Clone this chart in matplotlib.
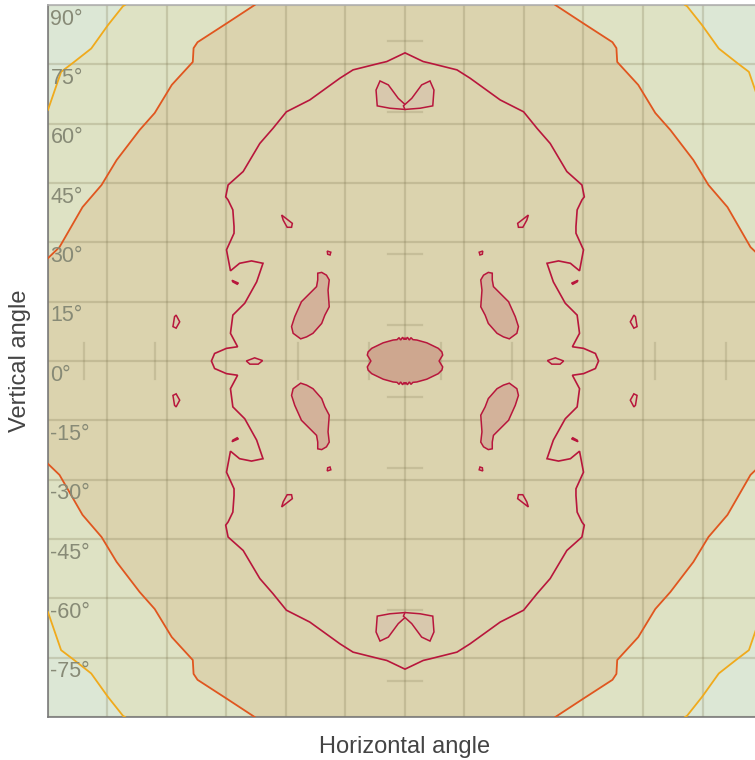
import numpy as np
import matplotlib.pyplot as plt

plt.rcParams['font.family'] = ['Liberation Sans', 'DejaVu Sans']

# contour outlines, in degrees (horizontal, vertical)
# upper-left quarter of each shape, the chart is mirrored both ways

# yellow contour (upper-left corner)
yellow_h = [-90.0, -86.7, -83.8, -79.1, -74.9, -71.1, -70.6]
yellow_v = [63.5, 73.1, 75.3, 79.0, 84.9, 89.7, 90.0]

# orange contour, left edge up to top edge
orange_h = [-90.0, -87.1, -81.3, -76.5, -72.7, -66.9, -63.1, -58.8, -53.5, -53.3, -52.3, -44.9, -37.9]
orange_v = [26.0, 28.8, 38.9, 44.5, 50.8, 58.4, 62.7, 69.8, 75.6, 79.1, 80.6, 85.4, 90.0]

# main crimson contour, top centre down to the horizontal axis
crimson_h = [0.0, -4.6, -6.3, -13.1, -16.4, -24.0, -29.9, -33.3, -36.6, -40.8, -44.6, -45.2,
             -44.6, -43.4, -43.1, -43.1, -45.0, -44.0, -41.7, -38.7, -35.8, -37.4, -40.4,
             -43.4, -44.0, -42.2, -45.0, -48.0, -48.8]
crimson_v = [77.9, 75.7, 75.3, 73.6, 71.5, 66.0, 63.0, 58.8, 55.0, 47.9, 44.5, 41.5,
             40.7, 38.2, 34.0, 32.3, 28.1, 22.8, 24.7, 25.3, 24.7, 20.0, 14.6,
             11.6, 7.0, 3.6, 3.2, 1.9, 0.0]

# central blob, top centre to the left point
centre_h = [0.0, -0.2, -0.6, -1.1, -1.5, -2.0, -3.0, -5.5, -8.4, -9.3, -9.5, -8.6]
centre_v = [5.9, 5.4, 6.0, 5.3, 5.9, 5.4, 5.3, 4.6, 3.2, 2.3, 1.5, 0.0]

# closed islands in the upper-left quarter
ear_h = [-22.0, -21.0, -19.8, -19.1, -19.4, -19.1, -20.2, -21.0, -23.2, -24.8, -26.3,
         -28.2, -28.6, -27.8, -26.1, -24.0, -22.3, -22.0]
ear_v = [22.2, 22.4, 21.7, 20.5, 17.9, 13.7, 11.6, 9.5, 7.0, 6.1, 5.6,
         7.0, 8.7, 11.2, 15.0, 17.1, 18.8, 20.5]
top_loop_h = [-6.3, -7.3, -7.0, -3.8, 0.0, 0.4, -1.7, -4.2]
top_loop_v = [70.8, 68.5, 64.5, 63.9, 63.6, 64.5, 66.4, 69.8]
tri_h = [-31.1, -28.4, -28.6, -29.7, -30.7]
tri_v = [36.9, 34.8, 33.8, 33.8, 35.6]
dot_h = [-19.6, -18.7, -18.9, -19.5]
dot_v = [27.8, 27.5, 26.8, 27.0]
sliver_h = [-43.6, -42.0, -42.3, -43.4]
sliver_v = [20.4, 19.7, 19.4, 20.0]
side_h = [-58.5, -58.1, -57.7, -56.8, -57.7]
side_v = [8.7, 11.2, 11.6, 9.9, 8.3]

# island on the horizontal axis (left one, mirrored to the right)
oval_h = [-40.0, -37.9, -35.9, -37.0, -39.1]
oval_v = [0.0, 0.8, 0.1, -0.8, -0.8]

# grid and tick values
grid_vals = np.arange(-90, 91, 15)
ylabels = [90, 75, 60, 45, 30, 15, 0, -15, -30, -45, -60, -75]
mark_vals = [9, 27, 63, 81]

c_blue = '#dce7d5'
c_green = '#dee2c4'
c_tan = '#dbd3ae'
c_yellow = '#f0aa1c'
c_orange = '#e0561f'
c_crimson = '#b8163c'
c_grid = '#7d7550'


def four_way(h, v):
    h = np.asarray(h); v = np.asarray(v)
    ul = list(zip(h, v))
    ll = list(zip(h[::-1], -v[::-1]))
    lr = list(zip(-h, -v))
    ur = list(zip(-h[::-1], v[::-1]))
    return np.array(ul + ll + lr + ur)


def mirrors(h, v):
    h = np.asarray(h); v = np.asarray(v)
    return [(h, v), (-h, v), (h, -v), (-h, -v)]


fig = plt.figure(figsize=(7.55, 7.6), dpi=100)
ax = fig.add_axes([48 / 755, 43 / 760, 714 / 755, 712 / 760])
ax.set_xlim(-90, 90)
ax.set_ylim(-90, 90)
ax.set_facecolor(c_green)

# blue corners outside the yellow contour
for h, v in mirrors(yellow_h, yellow_v):
    ch = np.append(h, np.sign(h[0]) * 90)
    cv = np.append(v, np.sign(v[-1]) * 90)
    ax.fill(ch, cv, color=c_blue, lw=0, zorder=1)
    ax.plot(h, v, color=c_yellow, lw=1.3, zorder=4)

# tan region inside the orange contour
oh = np.asarray(orange_h); ov = np.asarray(orange_v)
tan = np.concatenate([
    np.column_stack([oh, ov]),
    np.column_stack([-oh[::-1], ov[::-1]]),
    np.column_stack([-oh, -ov]),
    np.column_stack([oh[::-1], -ov[::-1]]),
])
ax.fill(tan[:, 0], tan[:, 1], color=c_tan, lw=0, zorder=1.5)
for h, v in mirrors(orange_h, orange_v):
    ax.plot(h, v, color=c_orange, lw=1.3, zorder=4)

# grid
for g in grid_vals:
    ax.axvline(g, color=c_grid, alpha=0.25, lw=1.6, zorder=2)
    ax.axhline(g, color=c_grid, alpha=0.25, lw=1.6, zorder=2)

# short marks along the centre lines
for m in mark_vals:
    for s in (-1, 1):
        ax.plot([-4.4, 4.4], [s * m, s * m], color=c_grid, alpha=0.22, lw=1.6, zorder=2)
        ax.plot([s * m, s * m], [-4.5, 4.5], color=c_grid, alpha=0.22, lw=1.6, zorder=2)

# main crimson contour
main = four_way(crimson_h, crimson_v)
ax.fill(main[:, 0], main[:, 1], facecolor='none', edgecolor=c_crimson, lw=1.2, zorder=5)

# islands
islands = [
    (ear_h, ear_v, '#d3b29a'),
    (top_loop_h, top_loop_v, '#d8c8ad'),
    (tri_h, tri_v, '#d8c6a8'),
    (dot_h, dot_v, c_tan),
    (sliver_h, sliver_v, '#d4bca0'),
    (side_h, side_v, '#d9cdac'),
]
for h, v, fc in islands:
    for mh, mv in mirrors(h, v):
        ax.fill(mh, mv, facecolor=fc, edgecolor=c_crimson, lw=1.1, zorder=5)

for sgn in (1, -1):
    ax.fill(sgn * np.asarray(oval_h), oval_v, facecolor='#d8c6a8', edgecolor=c_crimson, lw=1.1, zorder=5)

cen = four_way(centre_h, centre_v)
ax.fill(cen[:, 0], cen[:, 1], facecolor='#cea78f', edgecolor=c_crimson, lw=1.1, zorder=5)

# angle labels inside the axes
for v in ylabels:
    ax.text(-89.4, v - 0.9, f'{v}°', ha='left', va='top', fontsize=15.5,
            color='#878a76', zorder=6)

ax.set_xticks([])
ax.set_yticks([])
for side in ('left', 'bottom'):
    ax.spines[side].set_color('#7a7a7a')
    ax.spines[side].set_linewidth(1.2)
ax.spines['top'].set_color('#b0b0b0')
ax.spines['top'].set_linewidth(1.2)
ax.spines['right'].set_visible(False)

ax.set_xlabel('Horizontal angle', fontsize=17, color='#444444', labelpad=14)
fig.text(20 / 755, 1 - 361 / 760, 'Vertical angle', rotation=90, ha='center', va='center',
         fontsize=17, color='#444444')

fig.savefig('out.png', dpi=100)
